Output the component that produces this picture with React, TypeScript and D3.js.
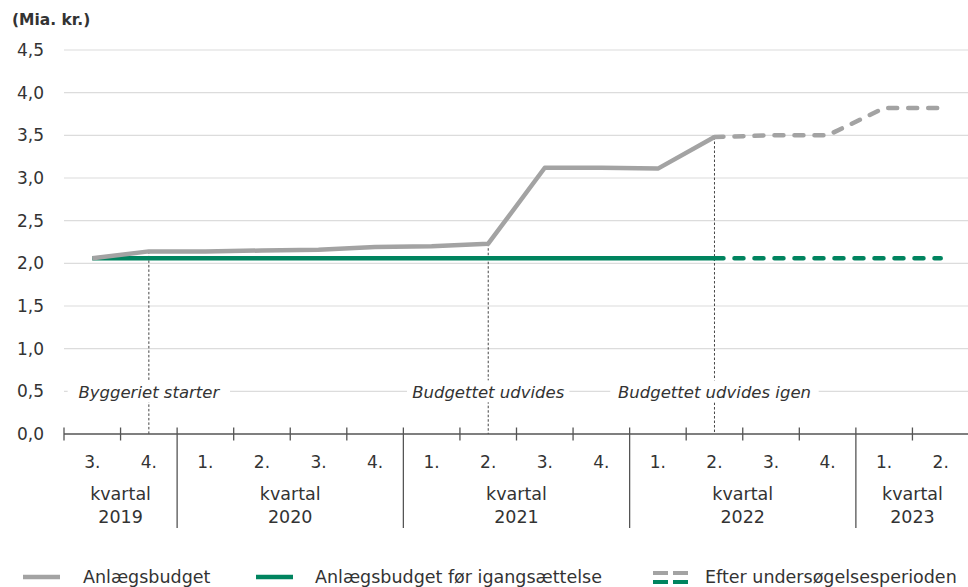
import * as d3 from "d3";

const quarters = ["3.", "4.", "1.", "2.", "3.", "4.", "1.", "2.", "3.", "4.", "1.", "2.", "3.", "4.", "1.", "2."];
const years = ["2019", "2019", "2020", "2020", "2020", "2020", "2021", "2021", "2021", "2021", "2022", "2022", "2022", "2022", "2023", "2023"];
const budget = [2.06, 2.14, 2.14, 2.15, 2.16, 2.19, 2.2, 2.23, 3.12, 3.12, 3.11, 3.48, 3.5, 3.5, 3.82, 3.82];
const budgetBefore = [2.06, 2.06, 2.06, 2.06, 2.06, 2.06, 2.06, 2.06, 2.06, 2.06, 2.06, 2.06, 2.06, 2.06, 2.06, 2.06];
const splitIndex = 11; // after this quarter the lines are dashed
const yTicks = [0, 0.5, 1, 1.5, 2, 2.5, 3, 3.5, 4, 4.5];
const notes = [
  { i: 1, text: "Byggeriet starter" },
  { i: 7, text: "Budgettet udvides" },
  { i: 11, text: "Budgettet udvides igen" },
];

const W = 968;
const H = 587;
const left = 64;
const right = 969;
const top = 50;
const bottom = 434;
const GRAY = "#a3a3a3";
const GREEN = "#00845f";
const TEXT = "#333333";
const font = "'DejaVu Sans', sans-serif";

export default function App() {
  const ids = quarters.map((_, i) => String(i));
  const x = d3.scaleBand<string>().domain(ids).range([left, right]);
  const cx = (i: number) => (x(String(i)) ?? 0) + x.bandwidth() / 2;
  const y = d3.scaleLinear().domain([0, 4.5]).range([bottom, top]);
  const fmt = (v: number) => d3.format(".1f")(v).replace(".", ",");

  const lineFrom = (offset: number) =>
    d3
      .line<number>()
      .x((_, i) => cx(i + offset))
      .y((d) => y(d));

  const solid = (arr: number[]) => lineFrom(0)(arr.slice(0, splitIndex + 1)) ?? "";
  const dashed = (arr: number[]) => lineFrom(splitIndex)(arr.slice(splitIndex)) ?? "";

  // year groups
  const groups = d3.groups(years.map((yr, i) => ({ yr, i })), (d) => d.yr);
  const boundaries = d3.range(0, quarters.length + 1).map((i) => x(String(i)) ?? right);

  return (
    <svg width={W} height={H} style={{ display: "block", position: "absolute", left: 0, top: 0 }} fontFamily={font}>
      <rect width={W} height={H} fill="#fff" />
      <text x={12} y={25} fontSize={15.5} fontWeight={700} fill={TEXT}>
        (Mia. kr.)
      </text>

      {/* gridlines and y labels */}
      {yTicks.map((t) => (
        <g key={t}>
          {t > 0 && <line x1={left} x2={W} y1={y(t)} y2={y(t)} stroke="#dcdcdc" strokeWidth={1.2} />}
          <text x={44} y={y(t)} dy="0.36em" textAnchor="end" fontSize={17} fill={TEXT}>
            {fmt(t)}
          </text>
        </g>
      ))}

      {/* annotation guides */}
      {notes.map((n) => (
        <line
          key={n.i}
          x1={cx(n.i)}
          x2={cx(n.i)}
          y1={y(budget[n.i])}
          y2={bottom}
          stroke="#444"
          strokeWidth={1}
          strokeDasharray="2.5,2"
        />
      ))}
      {notes.map((n) => {
        const w = n.text.length * 9.2;
        return (
          <g key={"t" + n.i}>
            <rect x={cx(n.i) - w / 2 - 3} y={y(0.5) - 11} width={w + 6} height={22} fill="#fff" />
            <text x={cx(n.i)} y={y(0.5)} dy="0.38em" textAnchor="middle" fontSize={16.5} fontStyle="italic" fill={TEXT}>
              {n.text}
            </text>
          </g>
        );
      })}

      {/* lines */}
      <path d={solid(budgetBefore)} fill="none" stroke={GREEN} strokeWidth={4.5} />
      <path d={dashed(budgetBefore)} fill="none" stroke={GREEN} strokeWidth={4.5} strokeDasharray="9,11" strokeLinecap="round" />
      <path d={solid(budget)} fill="none" stroke={GRAY} strokeWidth={4.5} strokeLinejoin="round" />
      <path d={dashed(budget)} fill="none" stroke={GRAY} strokeWidth={4.5} strokeDasharray="9,11" strokeLinecap="round" strokeLinejoin="round" />

      {/* x axis */}
      <line x1={left} x2={W} y1={bottom} y2={bottom} stroke="#555" strokeWidth={1.3} />
      {boundaries.map((bx, i) => {
        const isYear = i > 0 && i < quarters.length && years[i] !== years[i - 1];
        return (
          <line key={i} x1={bx} x2={bx} y1={bottom - 6.5} y2={isYear ? 528 : bottom + 6.5} stroke="#555" strokeWidth={1.3} />
        );
      })}
      {quarters.map((q, i) => (
        <text key={i} x={cx(i)} y={468} textAnchor="middle" fontSize={17} fill={TEXT}>
          {q}
        </text>
      ))}
      {groups.map(([yr, items]) => {
        const mid = (cx(items[0].i) + cx(items[items.length - 1].i)) / 2;
        return (
          <g key={yr}>
            <text x={mid} y={500} textAnchor="middle" fontSize={17.5} fill={TEXT}>
              kvartal
            </text>
            <text x={mid} y={523} textAnchor="middle" fontSize={17.5} fill={TEXT}>
              {yr}
            </text>
          </g>
        );
      })}

      {/* legend */}
      <g fontSize={17.5} fill={TEXT}>
        <line x1={23} x2={60} y1={577} y2={577} stroke={GRAY} strokeWidth={4.5} />
        <text x={83} y={583}>Anlægsbudget</text>
        <line x1={256} x2={293} y1={577} y2={577} stroke={GREEN} strokeWidth={4.5} />
        <text x={315} y={583}>Anlægsbudget før igangsættelse</text>
        <line x1={653} x2={688} y1={573} y2={573} stroke={GRAY} strokeWidth={4} strokeDasharray="15,5" />
        <line x1={653} x2={688} y1={582} y2={582} stroke={GREEN} strokeWidth={4} strokeDasharray="15,5" />
        <text x={705} y={583}>Efter undersøgelsesperioden</text>
      </g>
    </svg>
  );
}
